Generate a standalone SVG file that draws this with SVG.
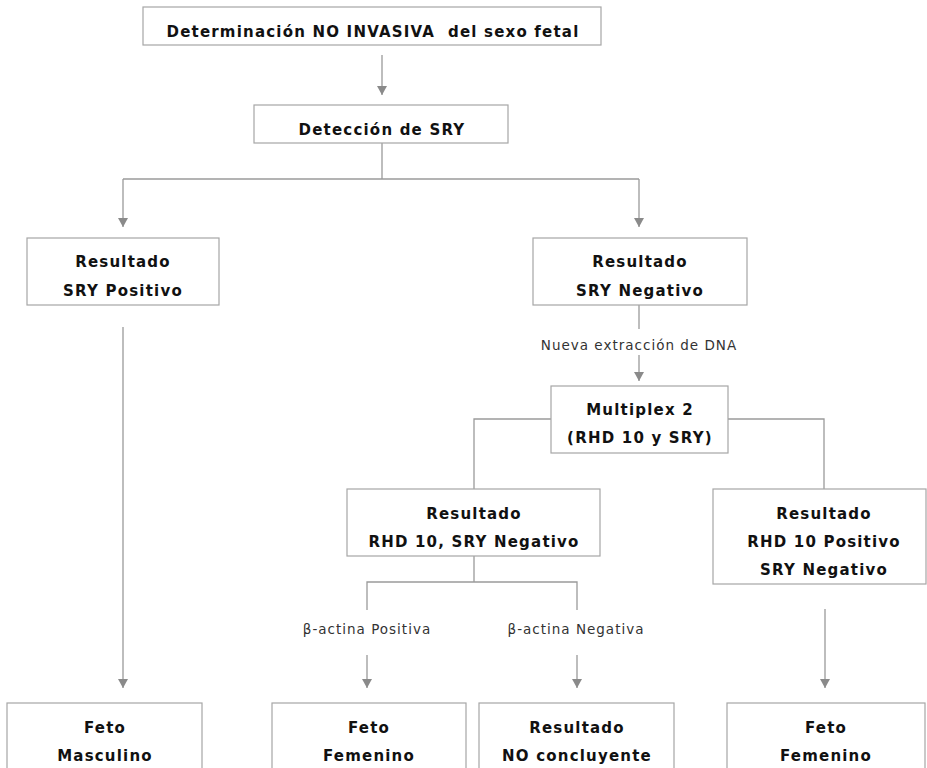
<svg xmlns="http://www.w3.org/2000/svg" width="927" height="768" viewBox="0 0 927 768">
  <style>
    .box { fill: #ffffff; stroke: #a6a6a6; stroke-width: 1.2; }
    .t { font-family: "DejaVu Sans", Verdana, sans-serif; font-size: 15px; font-weight: bold; letter-spacing: 1.2px; fill: #111; text-anchor: middle; }
    .lbl { font-family: "DejaVu Sans", Verdana, sans-serif; font-size: 13.5px; letter-spacing: 1px; fill: #333; text-anchor: middle; }
    .ln { fill: none; stroke: #9a9a9a; stroke-width: 1.3; }
    .arr { marker-end: url(#head); }
  </style>
  <defs>
    <marker id="head" markerWidth="10" markerHeight="10" refX="9" refY="5" orient="auto" markerUnits="userSpaceOnUse">
      <path d="M0,0 L9,5 L0,10 Z" fill="#8a8a8a"/>
    </marker>
  </defs>
  <rect width="927" height="768" fill="#ffffff"/>

  <g id="connectors">
    <line class="ln arr" x1="382" y1="55" x2="382" y2="95"/>
    <polyline class="ln" points="382,143 382,179"/>
    <polyline class="ln" points="123,179 639,179"/>
    <line class="ln arr" x1="123" y1="179" x2="123" y2="227"/>
    <line class="ln arr" x1="639" y1="179" x2="639" y2="227"/>
    <line class="ln arr" x1="123" y1="327" x2="123" y2="688"/>
    <line class="ln" x1="639" y1="305" x2="639" y2="329"/>
    <line class="ln arr" x1="639" y1="355" x2="639" y2="381"/>
    <polyline class="ln" points="551,419 474,419 474,489"/>
    <polyline class="ln" points="728,419 824,419 824,489"/>
    <polyline class="ln" points="474,556 474,582"/>
    <polyline class="ln" points="367,610 367,582 577,582 577,610"/>
    <line class="ln arr" x1="367" y1="655" x2="367" y2="688"/>
    <line class="ln arr" x1="577" y1="655" x2="577" y2="688"/>
    <line class="ln arr" x1="825" y1="609" x2="825" y2="688"/>
    <text class="lbl" x="639" y="350">Nueva extracción de DNA</text>
    <text class="lbl" x="367" y="634">β-actina Positiva</text>
    <text class="lbl" x="576" y="634">β-actina Negativa</text>
  </g>

  <g id="n-inicio">
    <rect class="box" x="143" y="7" width="458" height="38"/>
    <text class="t" x="373" y="37" xml:space="preserve">Determinación NO INVASIVA  del sexo fetal</text>
  </g>
  <g id="n-deteccion">
    <rect class="box" x="254" y="105" width="254" height="38"/>
    <text class="t" x="382" y="135">Detección de SRY</text>
  </g>
  <g id="n-sry-pos">
    <rect class="box" x="27" y="238" width="192" height="67"/>
    <text class="t" x="123" y="267">Resultado</text>
    <text class="t" x="123" y="296">SRY Positivo</text>
  </g>
  <g id="n-sry-neg">
    <rect class="box" x="533" y="238" width="214" height="67"/>
    <text class="t" x="640" y="267">Resultado</text>
    <text class="t" x="640" y="296">SRY Negativo</text>
  </g>
  <g id="n-multiplex">
    <rect class="box" x="551" y="386" width="177" height="67"/>
    <text class="t" x="640" y="415">Multiplex 2</text>
    <text class="t" x="640" y="443">(RHD 10 y SRY)</text>
  </g>
  <g id="n-rhd-neg">
    <rect class="box" x="347" y="489" width="253" height="67"/>
    <text class="t" x="474" y="519">Resultado</text>
    <text class="t" x="474" y="547">RHD 10, SRY Negativo</text>
  </g>
  <g id="n-rhd-pos">
    <rect class="box" x="713" y="489" width="213" height="95"/>
    <text class="t" x="824" y="519">Resultado</text>
    <text class="t" x="824" y="547">RHD 10 Positivo</text>
    <text class="t" x="824" y="575">SRY Negativo</text>
  </g>
  <g id="n-masculino">
    <rect class="box" x="7" y="703" width="195" height="80"/>
    <text class="t" x="105" y="733">Feto</text>
    <text class="t" x="105" y="761">Masculino</text>
  </g>
  <g id="n-femenino-1">
    <rect class="box" x="272" y="703" width="194" height="80"/>
    <text class="t" x="369" y="733">Feto</text>
    <text class="t" x="369" y="761">Femenino</text>
  </g>
  <g id="n-no-concluyente">
    <rect class="box" x="479" y="703" width="195" height="80"/>
    <text class="t" x="577" y="733">Resultado</text>
    <text class="t" x="577" y="761">NO concluyente</text>
  </g>
  <g id="n-femenino-2">
    <rect class="box" x="727" y="703" width="198" height="80"/>
    <text class="t" x="826" y="733">Feto</text>
    <text class="t" x="826" y="761">Femenino</text>
  </g>
</svg>
